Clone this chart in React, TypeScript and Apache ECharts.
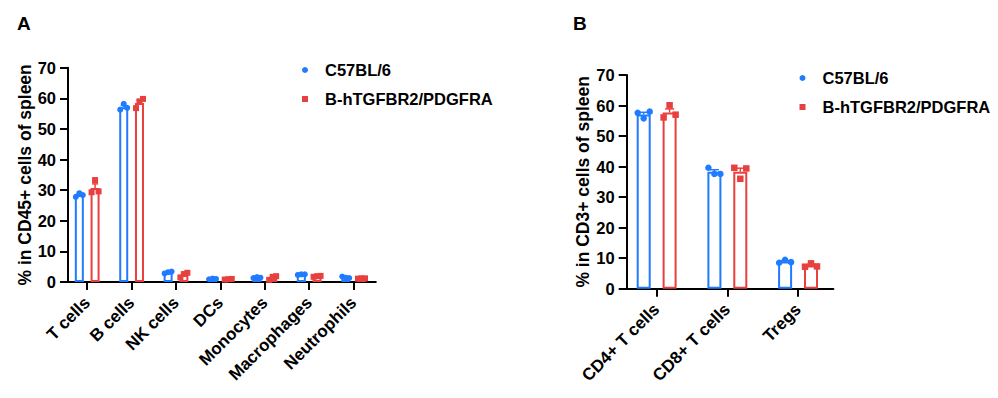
import React, { useEffect, useRef } from "react";
import * as echarts from "echarts";

// ---------- Data ----------
const cellsA = ["T cells", "B cells", "NK cells", "DCs", "Monocytes", "Macrophages", "Neutrophils"];
const c57A_points = [
  [27.8, 29.0, 28.4],
  [56.3, 58.2, 56.9],
  [2.8, 3.2, 3.4],
  [0.9, 1.1, 1.0],
  [1.3, 1.6, 1.4],
  [2.3, 2.5, 2.5],
  [1.8, 1.4, 1.3],
];
const c57A_mean = [28.4, 57.1, 3.1, 1.0, 1.4, 2.4, 1.5];
const c57A_sem = [0.35, 0.6, 0.2, 0.06, 0.09, 0.07, 0.15];
const hA_points = [
  [29.3, 33.3, 29.6],
  [56.8, 59.0, 59.8],
  [1.5, 2.6, 3.0],
  [0.8, 0.9, 1.0],
  [0.7, 1.7, 1.9],
  [1.7, 1.9, 2.0],
  [1.1, 1.2, 1.2],
];
const hA_mean = [30.7, 58.5, 2.4, 0.9, 1.4, 1.9, 1.2];
const hA_sem = [1.35, 0.9, 0.45, 0.06, 0.37, 0.09, 0.03];

const cellsB = ["CD4+ T cells", "CD8+ T cells", "Tregs"];
const c57B_points = [
  [57.6, 55.8, 58.0],
  [39.6, 37.6, 37.6],
  [8.5, 9.5, 8.7],
];
const c57B_mean = [57.1, 38.3, 8.9];
const c57B_sem = [0.68, 0.67, 0.31];
const hB_points = [
  [56.1, 60.1, 57.0],
  [39.6, 36.0, 39.4],
  [7.2, 8.3, 7.3],
];
const hB_mean = [57.7, 38.3, 7.6];
const hB_sem = [1.2, 1.17, 0.35];

const yTicks = [0, 10, 20, 30, 40, 50, 60, 70];
const groupNames = ["C57BL/6", "B-hTGFBR2/PDGFRA"];
const yTitleA = "% in CD45+ cells of spleen";
const yTitleB = "% in CD3+ cells of spleen";

// ---------- Styles ----------
const BLUE = "#1f7bff";
const RED = "#e8403f";
const FONT = "'Liberation Sans', Arial, Helvetica, sans-serif";
const INK = "#000";

type Panel = {
  grid: { left: number; top: number; width: number; height: number };
  yOffset: number;
  barWidth: number;
  barGapRatio: number;
  jitter: number;
  marker: number;
  cap: number;
};

const panelA: Panel = {
  grid: { left: 65, top: 67.7, width: 310.8, height: 214.3 },
  yOffset: -3,
  barWidth: 9,
  barGapRatio: 0.75,
  jitter: 3.5,
  marker: 6,
  cap: 6,
};
const panelB: Panel = {
  grid: { left: 621.3, top: 75, width: 212.1, height: 213.7 },
  yOffset: -5.4,
  barWidth: 14,
  barGapRatio: 0.85,
  jitter: 6,
  marker: 6.5,
  cap: 9,
};

function groupOffset(p: Panel, g: number) {
  const half = (p.barWidth + p.barWidth * p.barGapRatio) / 2;
  return g === 0 ? -half : half;
}

function buildPanel(
  idx: number,
  p: Panel,
  cats: string[],
  yName: string,
  means: number[][],
  sems: number[][],
  points: number[][][]
) {
  const xAxis = {
    type: "category",
    gridIndex: idx,
    data: cats,
    boundaryGap: true,
    axisLine: { show: true, lineStyle: { color: INK, width: 2 } },
    axisTick: { show: true, alignWithLabel: true, length: 8, lineStyle: { color: INK, width: 2 } },
    axisLabel: {
      interval: 0,
      rotate: 45,
      margin: 18,
      padding: [11, 0, 0, 0],
      color: INK,
      fontSize: 17,
      fontWeight: "bold",
      fontFamily: FONT,
    },
    splitLine: { show: false },
  };
  const yAxis = {
    type: "value",
    gridIndex: idx,
    min: 0,
    max: 70,
    interval: 10,
    offset: p.yOffset,
    name: yName,
    nameLocation: "middle",
    nameRotate: 90,
    nameGap: 34,
    nameTextStyle: { color: INK, fontSize: 17.5, fontWeight: "bold", fontFamily: FONT },
    axisLine: { show: true, lineStyle: { color: INK, width: 2 } },
    axisTick: { show: true, inside: false, length: 8, lineStyle: { color: INK, width: 2 } },
    axisLabel: {
      color: INK,
      fontSize: 16.5,
      fontWeight: "bold",
      fontFamily: FONT,
      margin: 12,
      formatter: (v: number) => (yTicks.includes(v) ? String(v) : ""),
    },
    splitLine: { show: false },
  };

  const colors = [BLUE, RED];
  const series: any[] = [];
  // bars
  for (let g = 0; g < 2; g++) {
    series.push({
      type: "bar",
      name: groupNames[g] + " mean " + idx,
      xAxisIndex: idx,
      yAxisIndex: idx,
      data: means[g],
      barWidth: p.barWidth,
      barGap: Math.round(p.barGapRatio * 100) + "%",
      itemStyle: { color: "#fff", borderColor: colors[g], borderWidth: 2 },
      z: 2,
      silent: true,
    });
  }
  // error bars (upper whisker)
  for (let g = 0; g < 2; g++) {
    const off = groupOffset(p, g);
    series.push({
      type: "custom",
      name: groupNames[g] + " sem " + idx,
      xAxisIndex: idx,
      yAxisIndex: idx,
      data: means[g].map((m, i) => [i, m, sems[g][i]]),
      encode: { x: 0, y: 1 },
      z: 3,
      silent: true,
      renderItem: (params: any, api: any) => {
        const c = api.value(0);
        const m = api.value(1);
        const s = api.value(2);
        const p0 = api.coord([c, m]);
        const p1 = api.coord([c, m + s]);
        const x = p0[0] + off;
        return {
          type: "group",
          children: [
            {
              type: "line",
              shape: { x1: x, y1: p0[1], x2: x, y2: p1[1] },
              style: { stroke: colors[g], lineWidth: 1.5 },
            },
            {
              type: "line",
              shape: { x1: x - p.cap / 2, y1: p1[1], x2: x + p.cap / 2, y2: p1[1] },
              style: { stroke: colors[g], lineWidth: 1.5 },
            },
          ],
        };
      },
    });
  }
  // individual points
  for (let g = 0; g < 2; g++) {
    const off = groupOffset(p, g);
    const data: number[][] = [];
    points[g].forEach((arr, i) => arr.forEach((v, j) => data.push([i, v, j])));
    series.push({
      type: "custom",
      name: groupNames[g],
      xAxisIndex: idx,
      yAxisIndex: idx,
      data,
      encode: { x: 0, y: 1 },
      itemStyle: { color: colors[g] },
      z: 4,
      silent: true,
      renderItem: (params: any, api: any) => {
        const c = api.value(0);
        const v = api.value(1);
        const j = api.value(2);
        const pt = api.coord([c, v]);
        const x = pt[0] + off + (j - 1) * p.jitter;
        const y = pt[1];
        const r = p.marker / 2;
        if (g === 0) {
          return { type: "circle", shape: { cx: x, cy: y, r }, style: { fill: colors[g] } };
        }
        return {
          type: "rect",
          shape: { x: x - r, y: y - r, width: p.marker, height: p.marker },
          style: { fill: colors[g] },
        };
      },
    });
  }
  return { xAxis, yAxis, series };
}

export default function App() {
  const ref = useRef<HTMLDivElement>(null);

  useEffect(() => {
    if (!ref.current) return;
    const chart = echarts.init(ref.current, null, { renderer: "svg" });

    const A = buildPanel(0, panelA, cellsA, yTitleA, [c57A_mean, hA_mean], [c57A_sem, hA_sem], [c57A_points, hA_points]);
    const B = buildPanel(1, panelB, cellsB, yTitleB, [c57B_mean, hB_mean], [c57B_sem, hB_sem], [c57B_points, hB_points]);

    const legendBase = {
      orient: "vertical",
      itemWidth: 6,
      itemHeight: 6,
      itemGap: 9,
      selectedMode: false,
      textStyle: {
        color: INK,
        fontSize: 16.5,
        fontWeight: "bold",
        fontFamily: FONT,
        lineHeight: 20,
        padding: [0, 0, 0, 12],
      },
      data: [
        { name: groupNames[0], icon: "circle" },
        { name: groupNames[1], icon: "rect" },
      ],
    };

    chart.setOption({
      animation: false,
      backgroundColor: "#fff",
      grid: [
        { ...panelA.grid, containLabel: false },
        { ...panelB.grid, containLabel: false },
      ],
      xAxis: [A.xAxis, B.xAxis],
      yAxis: [A.yAxis, B.yAxis],
      legend: [
        { ...legendBase, left: 297, top: 55 },
        { ...legendBase, left: 794.5, top: 63 },
      ],
      graphic: [
        {
          type: "text",
          left: 17,
          top: 14,
          style: { text: "A", fill: INK, fontSize: 19, fontWeight: "bold", fontFamily: FONT },
        },
        {
          type: "text",
          left: 573,
          top: 14,
          style: { text: "B", fill: INK, fontSize: 19, fontWeight: "bold", fontFamily: FONT },
        },
      ],
      series: [...A.series, ...B.series],
    });

    return () => chart.dispose();
  }, []);

  return (
    <div
      ref={ref}
      style={{ position: "fixed", left: 0, top: 0, width: 998, height: 398, background: "#fff" }}
    />
  );
}
